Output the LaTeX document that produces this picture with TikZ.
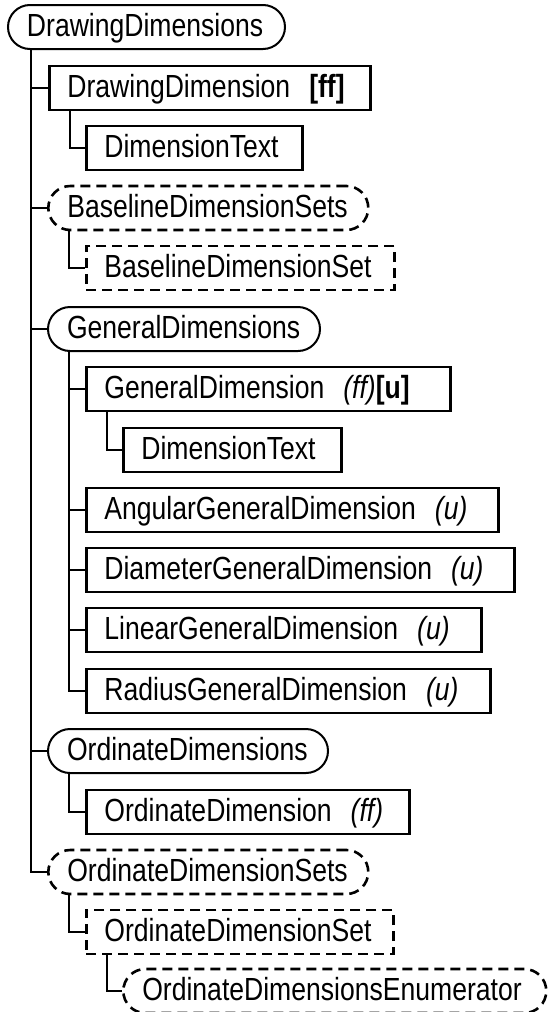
\documentclass[tikz,border=0pt]{standalone}
\usepackage{fontspec}
\setmainfont{Liberation Sans}[FakeStretch=0.83]
\begin{document}
\begin{tikzpicture}[x=1pt,y=-1pt,
  every node/.style={font=\fontsize{32}{34}\selectfont, text height=24pt, text depth=6pt,
    inner ysep=0pt, minimum height=44pt, anchor=west, align=left},
  elem/.style={draw, line width=2.8pt, inner xsep=18pt},
  optelem/.style={elem, dash pattern=on 10pt off 6pt},
  grp/.style={draw, line width=2pt, rounded corners=22pt, inner xsep=19pt},
  optgrp/.style={grp, line width=2.6pt, dash pattern=on 10pt off 6pt},
  conn/.style={line width=1.7pt}]
\useasboundingbox (0,0) rectangle (547,1012);
\newcommand{\sepgap}{\hspace{19pt}}

\node[grp, text width=239pt] (root) at (7,27) {DrawingDimensions};
\node[elem, text width=285pt] (n1) at (48,88) {DrawingDimension\sepgap\textbf{[ff]}};
\node[elem, text width=180pt] (n2) at (85,148) {DimensionText};
\node[optgrp, text width=282pt] (n3) at (47,208) {BaselineDimensionSets};
\node[optelem, text width=272pt] (n4) at (85,268) {BaselineDimensionSet};
\node[grp, text width=234pt] (n5) at (47,329) {GeneralDimensions};
\node[elem, text width=328pt] (n6) at (85,389) {GeneralDimension\sepgap\textit{(ff)}\textbf{[u]}};
\node[elem, text width=182pt] (n7) at (122,450) {DimensionText};
\node[elem, text width=376pt] (n8) at (85,510) {AngularGeneralDimension\sepgap\textit{(u)}};
\node[elem, text width=392pt] (n9) at (85,570) {DiameterGeneralDimension\sepgap\textit{(u)}};
\node[elem, text width=359pt] (n10) at (85,630) {LinearGeneralDimension\sepgap\textit{(u)}};
\node[elem, text width=368pt] (n11) at (85,691) {RadiusGeneralDimension\sepgap\textit{(u)}};
\node[grp, text width=242pt] (n12) at (47,751) {OrdinateDimensions};
\node[elem, text width=287pt] (n13) at (85,812) {OrdinateDimension\sepgap\textit{(ff)}};
\node[optgrp, text width=282pt] (n14) at (47,872) {OrdinateDimensionSets};
\node[optelem, text width=271pt] (n15) at (85,932) {OrdinateDimensionSet};
\node[optgrp, text width=385pt] (n16) at (122,991) {OrdinateDimensionsEnumerator};

% trunk of root
\coordinate (t0) at ([xshift=24pt]root.south west);
\draw[conn] (t0) |- (n14.west);
\foreach \c in {n1,n3,n5,n12} \draw[conn] (\c.west) -- (\c.west -| t0);
% GeneralDimensions trunk
\coordinate (t5) at ([xshift=22pt]n5.south west);
\draw[conn] (t5) |- (n11.west);
\foreach \c in {n6,n8,n9,n10} \draw[conn] (\c.west) -- (\c.west -| t5);
% single children
\draw[conn] ([xshift=22pt]n1.south west) |- (n2.west);
\draw[conn] ([xshift=22pt]n3.south west) |- (n4.west);
\draw[conn] ([xshift=22pt]n6.south west) |- (n7.west);
\draw[conn] ([xshift=22pt]n12.south west) |- (n13.west);
\draw[conn] ([xshift=22pt]n14.south west) |- (n15.west);
\draw[conn] ([xshift=22pt]n15.south west) |- (n16.west);
\end{tikzpicture}
\end{document}
